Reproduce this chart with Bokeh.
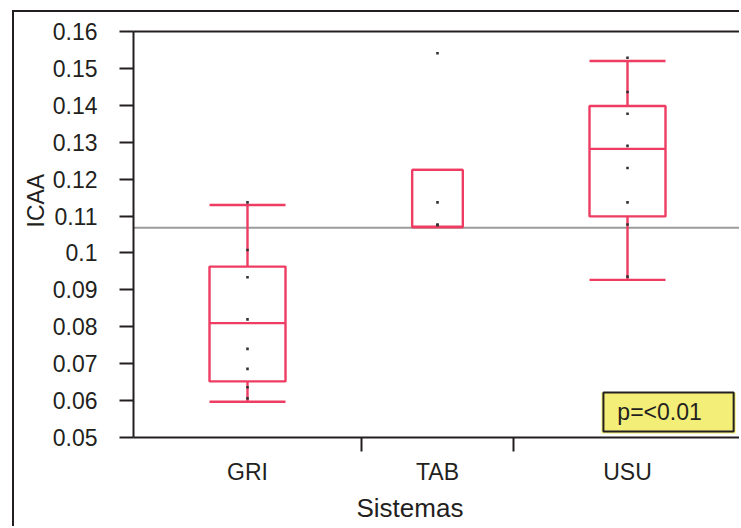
import numpy as np
from bokeh.plotting import figure
from bokeh.models import FixedTicker, LinearAxis, Range1d, Title
from bokeh.core.properties import value
from bokeh.embed import file_html
from bokeh.resources import INLINE

# ICAA by system: quantile boxes, raw observations and grand mean
groups = ["GRI", "TAB", "USU"]
n_obs = [9, 6, 9]                      # group sizes -> proportional x widths
q1 = [0.0652, 0.1070, 0.1099]
median = [0.0810, 0.1071, 0.1282]
q3 = [0.0963, 0.1225, 0.1398]
whisker_lo = [0.0597, 0.1070, 0.0927]
whisker_hi = [0.1130, 0.1225, 0.1520]

gri_points = [0.1137, 0.1008, 0.0934, 0.0820, 0.0740, 0.0686, 0.0636, 0.0606]
tab_points = [0.1541, 0.1137, 0.1076, 0.1076]
usu_points = [0.1529, 0.1436, 0.1377, 0.1290, 0.1230, 0.1137, 0.1077, 0.0936]

grand_mean = 0.1068

y_ticks = [0.05, 0.06, 0.07, 0.08, 0.09, 0.10, 0.11, 0.12, 0.13, 0.14, 0.15, 0.16]
y_tick_labels = ["0.05", "0.06", "0.07", "0.08", "0.09", "0.1",
                 "0.11", "0.12", "0.13", "0.14", "0.15", "0.16"]
p_text = "p=<0.01"

INK = "#231f20"
BOX = "#ee3c62"
NOTE_FILL = "#f3ee78"
FONT = "Liberation Sans"

edges = np.concatenate([[0], np.cumsum(n_obs)]).astype(float)
centers = (edges[:-1] + edges[1:]) / 2
half = np.array(n_obs, dtype=float) / 6

p = figure(width=727, height=516, output_backend="svg", toolbar_location=None,
           x_range=Range1d(0, edges[-1]), y_range=Range1d(0.05, 0.16),
           min_border_left=119, min_border_top=19, min_border_bottom=91,
           min_border_right=0, margin=(10, 0, 0, 12),
           styles={"border-left": f"2px solid {INK}", "border-top": f"2px solid {INK}"})
p.xgrid.visible = False
p.ygrid.visible = False
p.outline_line_color = None
p.background_fill_color = "white"
p.border_fill_color = "white"

# y axis
ya = p.yaxis[0]
ya.ticker = FixedTicker(ticks=y_ticks, minor_ticks=[])
ya.major_label_overrides = dict(zip(y_ticks, y_tick_labels))
ya.major_tick_in = 0
ya.major_tick_out = 14
ya.minor_tick_in = 0
ya.minor_tick_out = 0
ya.axis_line_color = INK
ya.axis_line_width = 2
ya.major_tick_line_color = INK
ya.major_tick_line_width = 2
ya.major_label_text_font = FONT
ya.major_label_text_font_size = "23px"
ya.major_label_text_color = INK
ya.major_label_standoff = 22

# x axis: labels at group centres, ticks at group boundaries
xa = p.xaxis[0]
xa.ticker = FixedTicker(ticks=list(centers), minor_ticks=list(edges[1:-1]))
xa.major_label_overrides = dict(zip(list(centers), groups))
xa.major_tick_in = 0
xa.major_tick_out = 0
xa.major_tick_line_color = None
xa.minor_tick_in = 0
xa.minor_tick_out = 14
xa.minor_tick_line_color = INK
xa.minor_tick_line_width = 2
xa.axis_line_color = INK
xa.axis_line_width = 2
xa.major_label_text_font = FONT
xa.major_label_text_font_size = "23px"
xa.major_label_text_color = INK
xa.major_label_standoff = 7

# top frame line
top = LinearAxis(ticker=FixedTicker(ticks=[], minor_ticks=[]),
                 axis_line_color=INK, axis_line_width=2,
                 major_tick_line_color=None, minor_tick_line_color=None,
                 major_label_text_font_size="0px")
p.add_layout(top, "above")

# axis titles
p.add_layout(Title(text="ICAA", align="left", offset=210, standoff=1,
                   text_font=FONT, text_font_size="23px", text_color=INK,
                   text_font_style="normal"), "left")
p.add_layout(Title(text="Sistemas", align="left", offset=223, standoff=6,
                   text_font=FONT, text_font_size="26px", text_color=INK,
                   text_font_style="normal"), "below")

# grand mean reference line
p.segment(x0=[edges[0]], x1=[edges[-1]], y0=[grand_mean], y1=[grand_mean],
          line_color="#9b9b9b", line_width=2)

# boxes, medians, whiskers, caps
p.quad(left=centers - half, right=centers + half, bottom=q1, top=q3,
       fill_color=None, line_color=BOX, line_width=2.4)
p.segment(x0=centers - half, x1=centers + half, y0=median, y1=median,
          line_color=BOX, line_width=2.4)
p.segment(x0=centers, x1=centers, y0=q3, y1=whisker_hi, line_color=BOX, line_width=2.4)
p.segment(x0=centers, x1=centers, y0=q1, y1=whisker_lo, line_color=BOX, line_width=2.4)
p.segment(x0=centers - half, x1=centers + half, y0=whisker_hi, y1=whisker_hi,
          line_color=BOX, line_width=2.4)
p.segment(x0=centers - half, x1=centers + half, y0=whisker_lo, y1=whisker_lo,
          line_color=BOX, line_width=2.4)

# raw observations
for c, pts in zip(centers, [gri_points, tab_points, usu_points]):
    p.scatter(x=[c] * len(pts), y=pts, marker="square", size=2.6,
              fill_color="#333333", line_color=None)

# p-value note: yellow backing, bordered box, text
p.quad(left=[18.47], right=[23.77], bottom=[0.0511], top=[0.0622],
       fill_color=NOTE_FILL, line_color=None)
p.quad(left=[18.55], right=[23.69], bottom=[0.0516], top=[0.0622],
       fill_color=NOTE_FILL, line_color=INK, line_width=2)
p.text(x=[19.1], y=[0.0570], text=[p_text], text_font=value(FONT),
       text_font_size="23px", text_color=INK, text_baseline="middle", text_align="left")

open("out.html", "w").write(file_html(p, INLINE))
